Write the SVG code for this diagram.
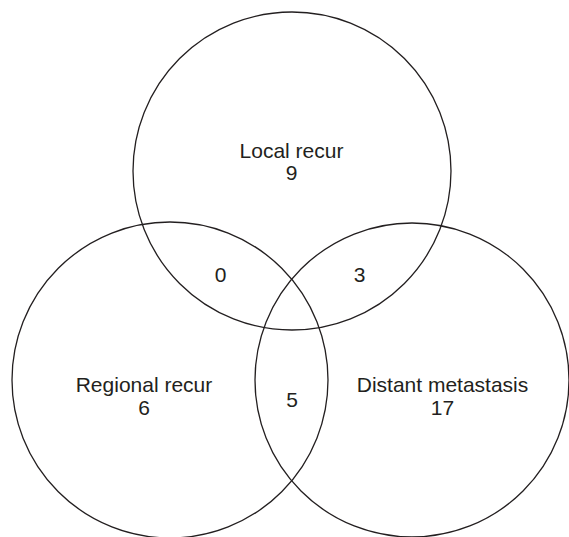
<svg xmlns="http://www.w3.org/2000/svg" width="569" height="537" viewBox="0 0 569 537">
<style>
.c{fill:none;stroke:#231f20;stroke-width:1.3}
text{font-family:"Liberation Sans",Arial,sans-serif;font-size:21px;fill:#231f20;text-anchor:middle}
</style>
<rect width="569" height="537" fill="#fff"/>
<g id="local"><circle class="c" cx="292" cy="171" r="159"/></g>
<g id="regional"><circle class="c" cx="170" cy="380" r="158"/></g>
<g id="distant"><circle class="c" cx="412" cy="380" r="157"/></g>
<g id="labels">
<text x="291.5" y="158">Local recur</text>
<text x="291.5" y="180">9</text>
<text x="144" y="392">Regional recur</text>
<text x="144" y="415">6</text>
<text x="442.5" y="392">Distant metastasis</text>
<text x="442.5" y="415">17</text>
<text x="220.5" y="282">0</text>
<text x="359.5" y="282">3</text>
<text x="292" y="407">5</text>
</g>
</svg>
